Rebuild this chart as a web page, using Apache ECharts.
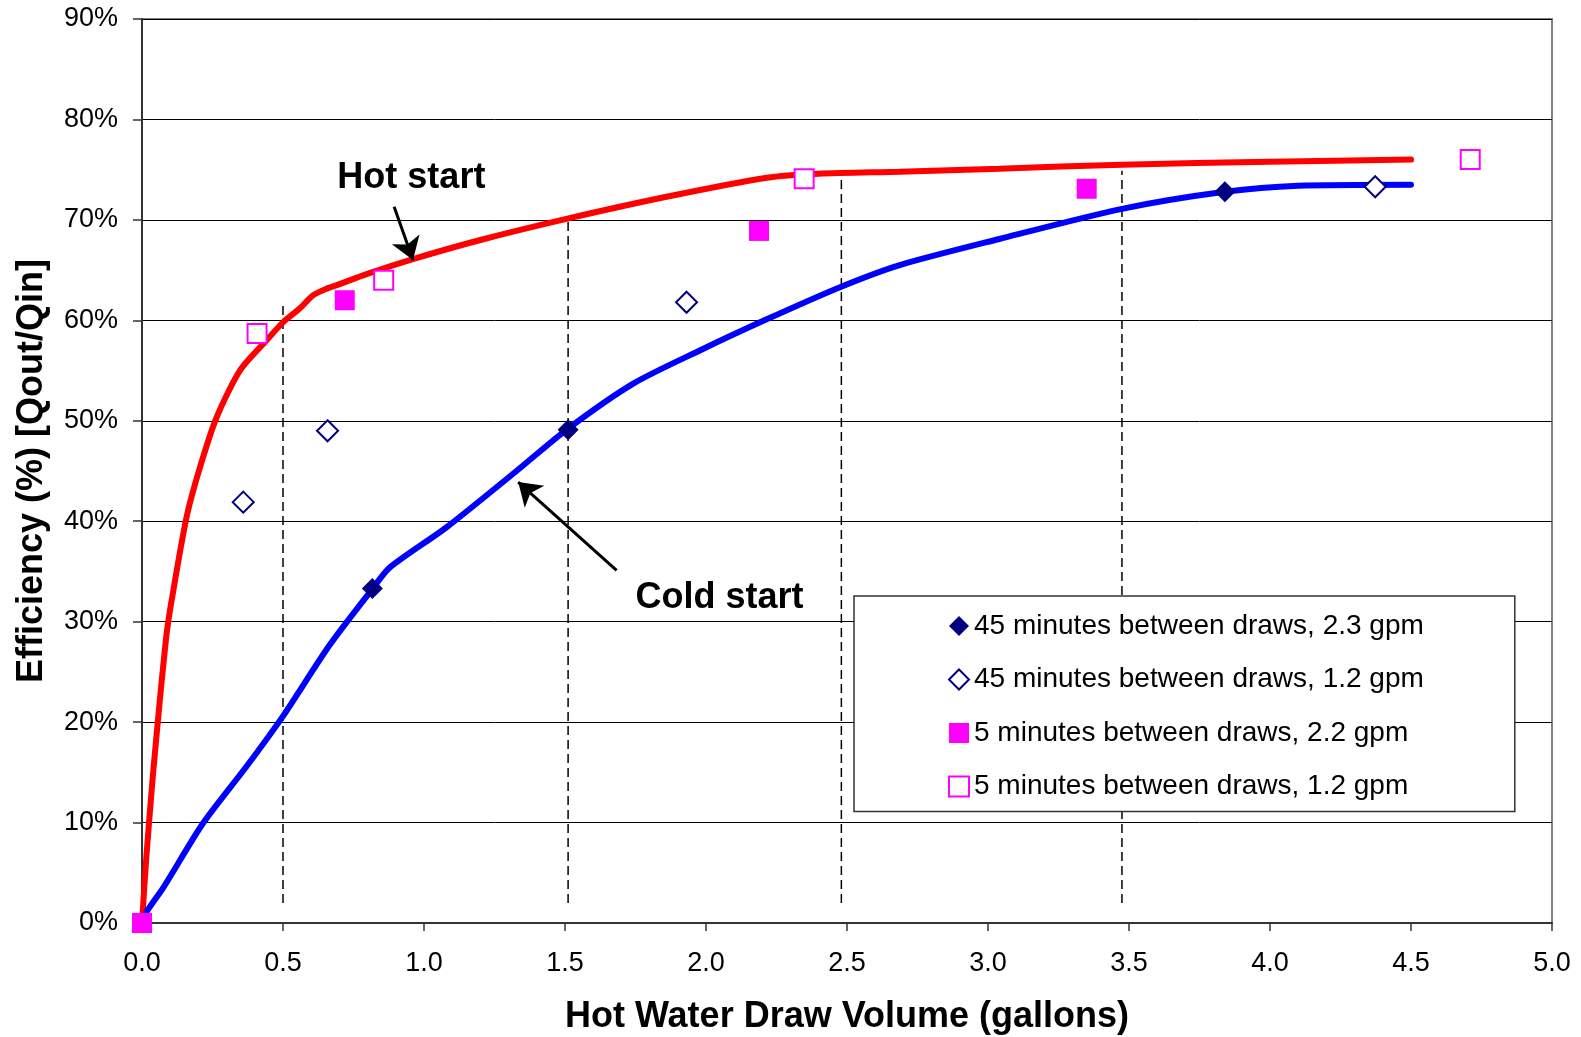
<!DOCTYPE html>
<html><head><meta charset="utf-8">
<script src="https://cdn.jsdelivr.net/npm/echarts@6/dist/echarts.min.js"></script>
<style>html,body{margin:0;padding:0;background:#fff}#c{width:1581px;height:1037px}</style>
</head><body><div id="c"></div>
<script>
const FONT = '"Liberation Sans", Arial, Helvetica, sans-serif';

// Curves: [gallons, efficiency %]
const hotStart = [[0,0],[0.016,6.8],[0.039,14.8],[0.063,22.1],[0.087,28.7],[0.105,32.1],[0.158,40.4],[0.205,45.3],[0.264,50.3],[0.347,55.0],[0.441,58.0],[0.5,59.8],[0.56,61.2],[0.607,62.5],[0.65,63.1],[0.7,63.6],[0.796,64.6],[0.961,66.1],[1.2,68.0],[1.505,70.1],[1.86,72.3],[2.215,74.2],[2.4,74.6],[2.687,74.8],[3.04,75.1],[3.475,75.5],[4.0,75.8],[4.5,76.0]];
const coldStart = [[0,0],[0.016,1.1],[0.075,3.5],[0.217,9.95],[0.371,15.6],[0.5,20.6],[0.666,27.7],[0.818,33.3],[0.879,35.4],[1.08,39.4],[1.328,45.0],[1.505,49.1],[1.742,53.7],[1.978,57.0],[2.215,60.1],[2.475,63.3],[2.687,65.5],[3.04,68.1],[3.475,71.1],[3.84,72.8],[4.1,73.4],[4.5,73.5]];

// Measured points
const min45gpm23 = [[0.817,33.3],[1.511,49.1],[3.84,72.8]];
const min45gpm12 = [[0.359,41.9],[0.658,49.0],[1.931,61.8],[4.373,73.3]];
const min5gpm22  = [[0,0],[0.719,62.0],[2.188,68.9],[3.35,73.1]];
const min5gpm12  = [[0.408,58.7],[0.857,64.0],[2.348,74.1],[4.71,76.0]];

const seriesNames = ['45 minutes between draws, 2.3 gpm','45 minutes between draws, 1.2 gpm','5 minutes between draws, 2.2 gpm','5 minutes between draws, 1.2 gpm'];

// Dashed drop lines
const dropX = [0.5, 1.511, 2.48, 3.475];
const dropTop = [61.8, 70.3, 74.9, 74.9];
const dropBottom = 2;

// Annotations
const noteText = ['Hot start','Cold start'];
const noteX = [0.957, 2.05];
const noteY = [74.1, 32.3];
const arrowFrom = [[0.894,71.3],[1.683,35.1]];
const arrowTo = [[0.961,66.0],[1.334,43.9]];

const chart = echarts.init(document.getElementById('c'), null, {renderer:'canvas'});

const dropSeries = dropX.map((x,i)=>({
  type:'line', data:[[x,dropBottom],[x,dropTop[i]]], showSymbol:false, silent:true,
  lineStyle:{color:'#000', width:1.5, type:[9,5]}, z:1
}));

const option = {
  animation:false,
  backgroundColor:'#fff',
  textStyle:{fontFamily:FONT},
  grid:{left:142, right:29, top:19, bottom:114, outerBoundsMode:'none', containLabel:false,
        show:true, borderColor:'#808080', borderWidth:2, backgroundColor:'transparent'},
  xAxis:{
    type:'value', min:0, max:5, interval:0.5,
    name:'Hot Water Draw Volume (gallons)', nameLocation:'middle', nameGap:76,
    nameTextStyle:{fontSize:36, fontWeight:'bold', color:'#000', fontFamily:FONT},
    axisLine:{show:true, lineStyle:{color:'#333', width:2}},
    axisTick:{show:true, length:8, lineStyle:{color:'#333', width:1.5}},
    axisLabel:{fontSize:27, color:'#000', margin:27, fontFamily:FONT, formatter:v=>v.toFixed(1)},
    splitLine:{show:false}
  },
  yAxis:{
    type:'value', min:0, max:90, interval:10,
    name:'Efficiency (%) [Qout/Qin]', nameLocation:'middle', nameGap:92,
    nameTextStyle:{fontSize:36, fontWeight:'bold', color:'#000', fontFamily:FONT},
    axisLine:{show:true, lineStyle:{color:'#333', width:2}},
    axisTick:{show:true, length:9, lineStyle:{color:'#333', width:1.5}},
    axisLabel:{fontSize:27, color:'#000', margin:24, fontFamily:FONT, formatter:'{value}%'},
    splitLine:{show:true, lineStyle:{color:'#000', width:1}}
  },
  legend:{
    data:seriesNames, orient:'vertical', left:854, top:596,
    padding:[16,91,11,94], itemGap:25.5, itemWidth:20, itemHeight:20,
    backgroundColor:'#fff', borderColor:'#333', borderWidth:1.5, borderRadius:0,
    textStyle:{fontSize:28, color:'#000', fontFamily:FONT},
    selectedMode:false
  },
  series:[
    ...dropSeries,
    {type:'line', name:'Hot start curve', data:hotStart, smooth:0.25, showSymbol:false, silent:true,
     lineStyle:{color:'#ff0000', width:6, cap:'round'}, z:2},
    {type:'line', name:'Cold start curve', data:coldStart, smooth:0.25, showSymbol:false, silent:true,
     lineStyle:{color:'#0000ff', width:6, cap:'round'}, z:2},
    {type:'scatter', name:seriesNames[0], data:min45gpm23, symbol:'diamond', symbolSize:21,
     itemStyle:{color:'#000080', opacity:1}, z:5},
    {type:'scatter', name:seriesNames[1], data:min45gpm12, symbol:'diamond', symbolSize:21,
     itemStyle:{color:'#ffffff', borderColor:'#000080', borderWidth:2, opacity:1}, z:5},
    {type:'scatter', name:seriesNames[2], data:min5gpm22, symbol:'rect', symbolSize:20,
     itemStyle:{color:'#ff00ff', opacity:1}, z:5},
    {type:'scatter', name:seriesNames[3], data:min5gpm12, symbol:'rect', symbolSize:19,
     itemStyle:{color:'#ffffff', borderColor:'#ff00ff', borderWidth:2, opacity:1}, z:5},
    {type:'scatter', name:'notes', silent:true, z:6,
     data:noteText.map((t,i)=>({value:[noteX[i],noteY[i]], name:t})),
     symbol:'circle', symbolSize:1, itemStyle:{color:'rgba(0,0,0,0)', opacity:1},
     label:{show:true, position:[0,0], align:'center', verticalAlign:'middle', formatter:p=>p.name,
            fontSize:36, fontWeight:'bold', color:'#000', fontFamily:FONT},
     markLine:{silent:true, symbol:['none','arrow'], symbolSize:22, label:{show:false},
       lineStyle:{color:'#000', width:3, type:'solid', opacity:1},
       emphasis:{disabled:true},
       data:arrowFrom.map((f,i)=>[{coord:f},{coord:arrowTo[i]}])}
    }
  ]
};
chart.setOption(option);
</script>
</body></html>
